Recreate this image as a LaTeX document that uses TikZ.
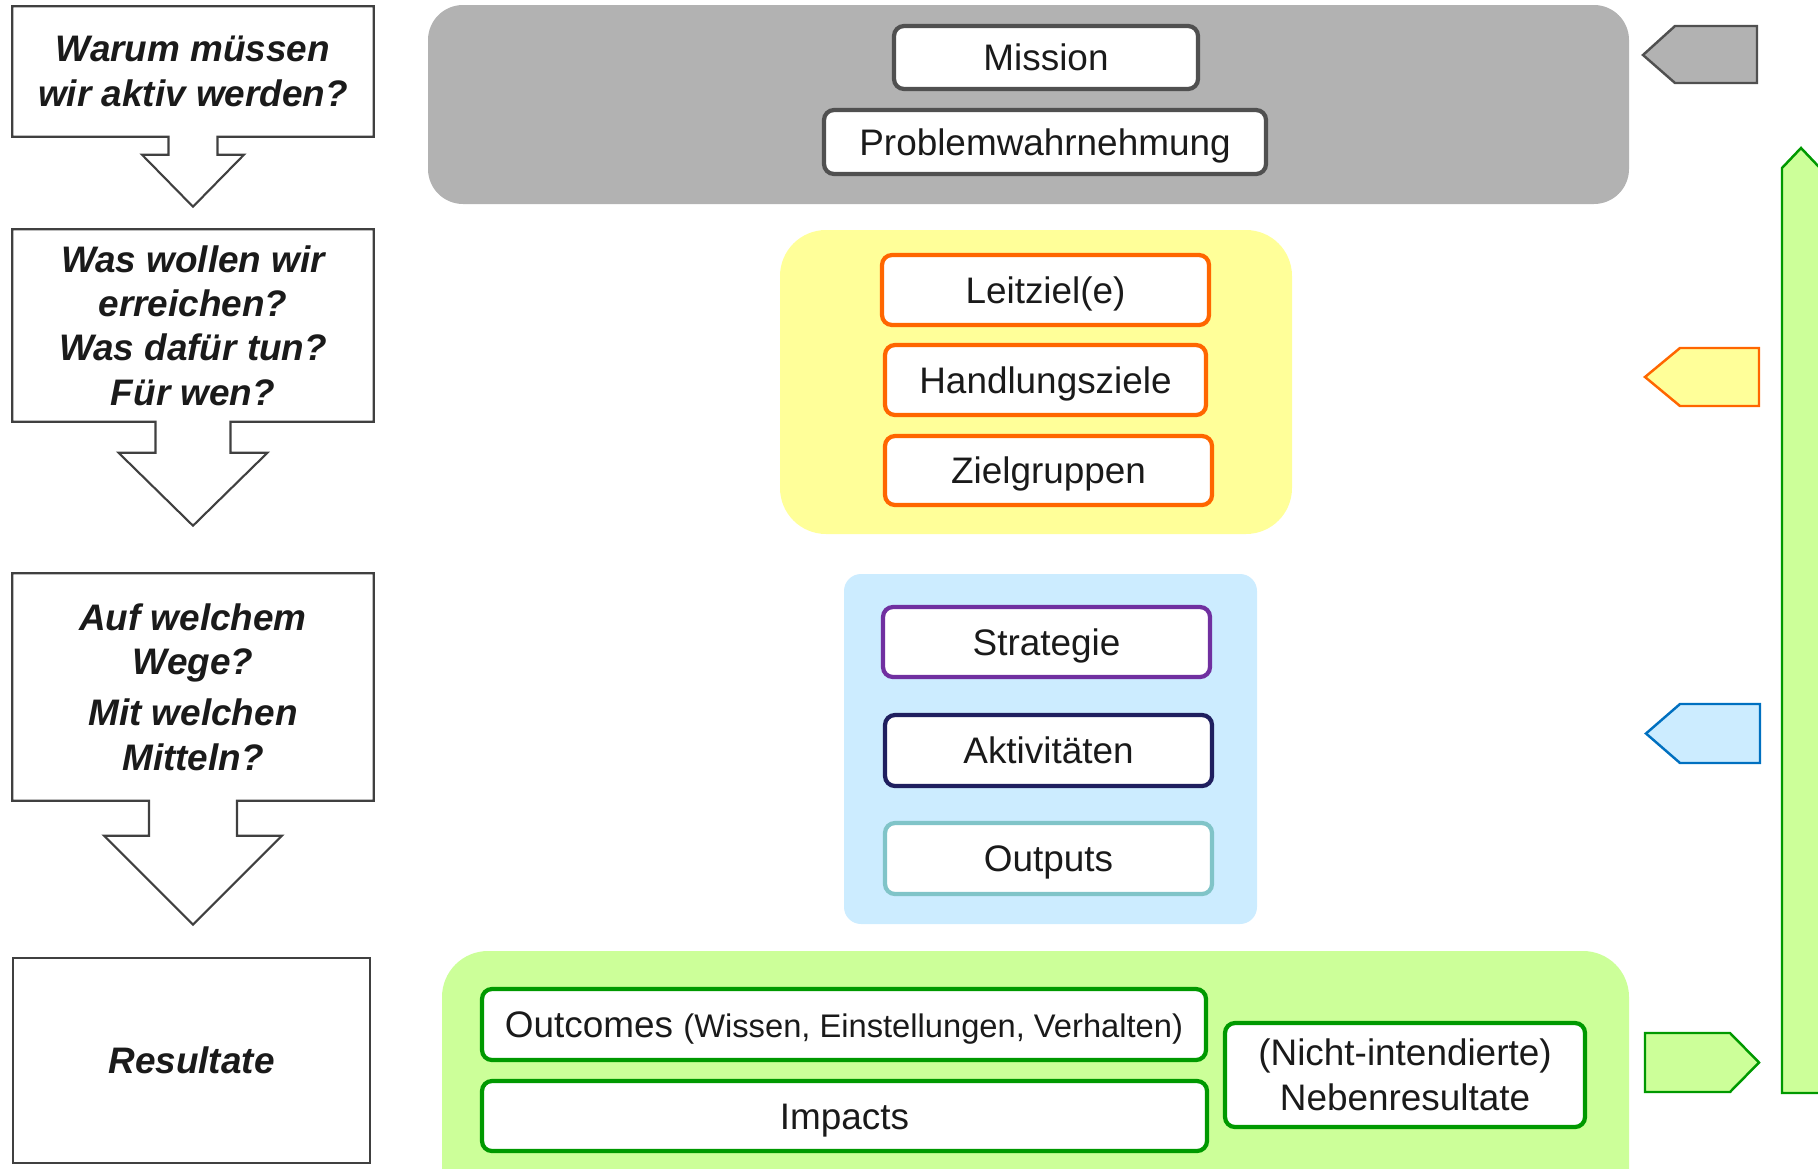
\documentclass[tikz,border=0pt]{standalone}
\usepackage{fontspec}
\setmainfont{Liberation Sans}
\usepackage{xcolor}
\usetikzlibrary{positioning}

\definecolor{txt}{HTML}{1A1A1A}
\definecolor{askline}{HTML}{404040}
\definecolor{panelgray}{HTML}{B2B2B2}
\definecolor{boxgray}{HTML}{505050}
\definecolor{panelyellow}{HTML}{FFFF99}
\definecolor{boxorange}{HTML}{FF6600}
\definecolor{panelblue}{HTML}{CCECFF}
\definecolor{boxpurple}{HTML}{7030A0}
\definecolor{boxnavy}{HTML}{1F1F5F}
\definecolor{boxteal}{HTML}{80C4C8}
\definecolor{tagblue}{HTML}{0070C0}
\definecolor{panelgreen}{HTML}{CCFF99}
\definecolor{boxgreen}{HTML}{009900}

\begin{document}
\begin{tikzpicture}[
  ask/.style={align=center,font=\fontsize{10.5}{12.6}\selectfont\bfseries\itshape,text=txt,minimum width=3.6cm,inner sep=0pt},
  outline/.style={draw=askline,line width=0.6pt,line join=miter},
  panel/.style={rounded corners=#1},
  item/.style={draw,rounded corners=1mm,line width=1.2pt,fill=white,align=center,font=\fontsize{10.5}{12.8}\selectfont,text=txt,inner sep=1pt},
  oneline/.style={item,text height=0.78em,text depth=0.02em},
  tag/.style={line width=0.7pt,line join=miter}]
\useasboundingbox (0,0) rectangle (18.18,-11.69);
\clip (0,0) rectangle (18.18,-11.69);
% questions on the left
\node[ask,minimum height=1.29cm] (q1) at (1.93,-0.715) {Warum müssen\\wir aktiv werden?};
\node[ask,minimum height=1.91cm] (q2) at (1.93,-3.255) {Was wollen wir\\erreichen?\\Was dafür tun?\\Für wen?};
\node[ask,minimum height=2.26cm] (q3) at (1.93,-6.87) {Auf welchem\\Wege?\\[2pt]Mit welchen\\Mitteln?};
\node[ask,draw=askline,line width=0.6pt,minimum width=3.57cm,minimum height=2.05cm] (q4) at (1.915,-10.605) {Resultate};
\draw[outline] (q1.south west) -- (q1.north west) -- (q1.north east) -- (q1.south east)
  -- ([xshift=2.45mm]q1.south) -- ++(0,-0.18) -- ++(0.265,0) -- ([yshift=-7mm]q1.south)
  -- ++(-0.51,0.52) -- ++(0.265,0) -- ++(0,0.18) -- cycle;
\draw[outline] (q2.south west) -- (q2.north west) -- (q2.north east) -- (q2.south east)
  -- ([xshift=3.75mm]q2.south) -- ++(0,-0.31) -- ++(0.37,0) -- ([yshift=-10.4mm]q2.south)
  -- ++(-0.745,0.73) -- ++(0.37,0) -- ++(0,0.31) -- cycle;
\draw[outline] (q3.south west) -- (q3.north west) -- (q3.north east) -- (q3.south east)
  -- ([xshift=4.4mm]q3.south) -- ++(0,-0.35) -- ++(0.45,0) -- ([yshift=-12.4mm]q3.south)
  -- ++(-0.89,0.89) -- ++(0.45,0) -- ++(0,0.35) -- cycle;
% panels
\fill[panelgray,panel=3.5mm] (4.28,-0.05) rectangle (16.29,-2.04);
\fill[panelyellow,panel=4.6mm] (7.80,-2.30) rectangle (12.92,-5.34);
\fill[panelblue,panel=1.7mm] (8.44,-5.74) rectangle (12.57,-9.24);
\fill[panelgreen,panel=4.6mm] (4.42,-9.51) rectangle (16.29,-12.2);
% items
\node[oneline,draw=boxgray,minimum width=3.04cm,minimum height=6.3mm] (mis) at (10.46,-0.575) {Mission};
\node[oneline,draw=boxgray,minimum width=4.42cm,minimum height=6.4mm] (prob) at (10.45,-1.42) {Problemwahrnehmung};
\node[oneline,draw=boxorange,minimum width=3.27cm,minimum height=7mm] (leit) at (10.455,-2.90) {Leitziel(e)};
\node[oneline,draw=boxorange,minimum width=3.21cm,minimum height=7mm] (hand) at (10.455,-3.80) {Handlungsziele};
\node[oneline,draw=boxorange,minimum width=3.27cm,minimum height=6.9mm] (ziel) at (10.485,-4.705) {Zielgruppen};
\node[oneline,draw=boxpurple,minimum width=3.27cm,minimum height=7mm] (strat) at (10.465,-6.42) {Strategie};
\node[oneline,draw=boxnavy,minimum width=3.27cm,minimum height=7.1mm] (akt) at (10.485,-7.505) {Aktivitäten};
\node[oneline,draw=boxteal,minimum width=3.27cm,minimum height=7.1mm] (outp) at (10.485,-8.585) {Outputs};
\node[oneline,draw=boxgreen,minimum width=7.24cm,minimum height=7.1mm] (outc) at (8.44,-10.245) {Outcomes {\fontsize{9.3}{11}\selectfont(Wissen, Einstellungen, Verhalten)}};
\node[oneline,draw=boxgreen,minimum width=7.25cm,minimum height=7mm] (imp) at (8.445,-11.16) {Impacts};
\node[item,draw=boxgreen,minimum width=3.60cm,minimum height=10.4mm] (neben) at (14.05,-10.75) {(Nicht-intendierte)\\Nebenresultate};
% tags on the right
\filldraw[tag,fill=panelgray,draw=boxgray] (16.43,-0.55) -- (16.75,-0.26) -- (17.57,-0.26) -- (17.57,-0.83) -- (16.75,-0.83) -- cycle;
\filldraw[tag,fill=panelyellow,draw=boxorange] (16.45,-3.77) -- (16.80,-3.48) -- (17.59,-3.48) -- (17.59,-4.06) -- (16.80,-4.06) -- cycle;
\filldraw[tag,fill=panelblue,draw=tagblue] (16.46,-7.335) -- (16.80,-7.04) -- (17.60,-7.04) -- (17.60,-7.63) -- (16.80,-7.63) -- cycle;
\filldraw[tag,fill=panelgreen,draw=boxgreen] (16.45,-10.33) -- (17.30,-10.33) -- (17.59,-10.625) -- (17.30,-10.92) -- (16.45,-10.92) -- cycle;
\filldraw[tag,fill=panelgreen,draw=boxgreen] (17.82,-10.93) -- (17.82,-1.68) -- (18.01,-1.48) -- (18.20,-1.68) -- (18.20,-10.93) -- cycle;
\end{tikzpicture}
\end{document}
